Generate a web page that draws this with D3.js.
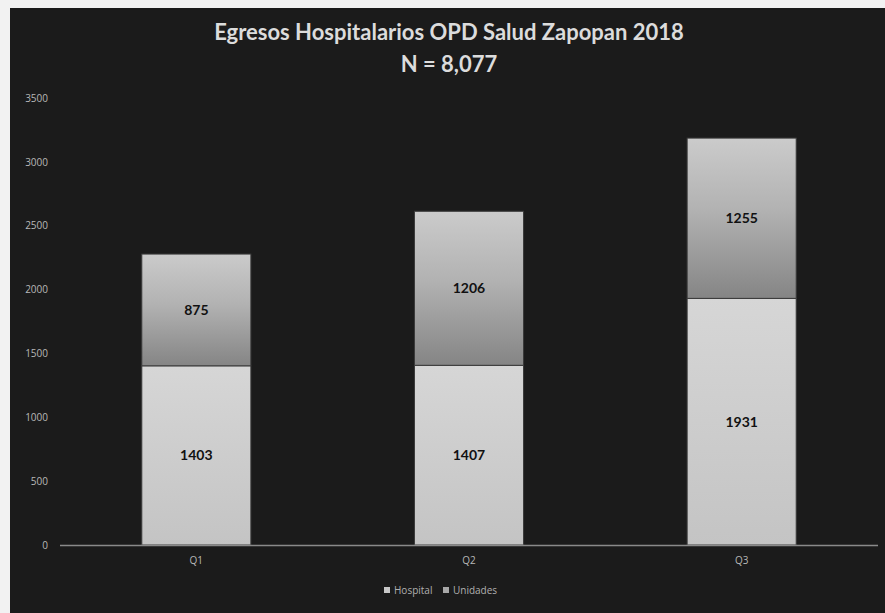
<!DOCTYPE html>
<html>
<head>
<meta charset="utf-8">
<script src="https://cdn.jsdelivr.net/npm/d3@7"></script>
<style>
  body { margin: 0; background: #f2f2f2; }
  svg { display: block; }
</style>
</head>
<body>
<div id="chart"></div>
<script>
var quarters = ["Q1", "Q2", "Q3"];
var hospital = [1403, 1407, 1931];
var unidades = [875, 1206, 1255];
var seriesNames = ["Hospital", "Unidades"];
var yTicks = [0, 500, 1000, 1500, 2000, 2500, 3000, 3500];

var W = 885, H = 613;
var margin = { top: 98, right: 9, bottom: 68, left: 60 };
var width = W - margin.left - margin.right,
  height = H - margin.top - margin.bottom;

var rows = quarters.map(function(q, i) {
  return { q: q, Hospital: hospital[i], Unidades: unidades[i] };
});
var stacked = d3.stack().keys(seriesNames)(rows);

var x = d3.scaleBand().domain(quarters).range([0, width + 2])
  .paddingInner(0.6).paddingOuter(0.3);
var y = d3.scaleLinear().domain([0, 3500]).range([height, 0]);

var svg = d3.select("#chart").append("svg")
  .attr("width", W).attr("height", H);

// dark chart panel, with the pale scan border on left/top
svg.append("rect").attr("x", 10).attr("y", 8).attr("width", W - 10).attr("height", H - 8)
  .attr("fill", "#1b1b1b");

var defs = svg.append("defs");
var grad = defs.append("linearGradient").attr("id", "gUni")
  .attr("x1", 0).attr("y1", 0).attr("x2", 0).attr("y2", 1);
grad.append("stop").attr("offset", "0%").attr("stop-color", "#cbcbcb");
grad.append("stop").attr("offset", "45%").attr("stop-color", "#b2b2b2");
grad.append("stop").attr("offset", "100%").attr("stop-color", "#858585");
var grad2 = defs.append("linearGradient").attr("id", "gHos")
  .attr("x1", 0).attr("y1", 0).attr("x2", 0).attr("y2", 1);
grad2.append("stop").attr("offset", "0%").attr("stop-color", "#d6d6d6");
grad2.append("stop").attr("offset", "100%").attr("stop-color", "#c4c4c4");

var fills = { Hospital: "url(#gHos)", Unidades: "url(#gUni)" };

svg.append("text").attr("x", 449).attr("y", 40)
  .attr("text-anchor", "middle").attr("fill", "#dcdcdc")
  .style("font-family", "Lato, 'Open Sans', sans-serif").style("font-weight", "bold")
  .style("font-size", "22px")
  .text("Egresos Hospitalarios OPD Salud Zapopan 2018");
svg.append("text").attr("x", 449).attr("y", 72)
  .attr("text-anchor", "middle").attr("fill", "#dcdcdc")
  .style("font-family", "Lato, 'Open Sans', sans-serif").style("font-weight", "bold")
  .style("font-size", "22px")
  .text("N = 8,077");

var g = svg.append("g").attr("transform", "translate(" + margin.left + "," + margin.top + ")");

// y axis labels only
var yAxis = d3.axisLeft(y).tickValues(yTicks).tickFormat(d3.format("d"))
  .tickSize(0).tickPadding(12);
var ya = g.append("g").call(yAxis);
ya.select(".domain").remove();
ya.selectAll("text").attr("fill", "#b8b8b8")
  .style("font-family", "'Open Sans', sans-serif").style("font-size", "10px");

// bars
var layer = g.selectAll(".layer").data(stacked).enter().append("g")
  .attr("class", "layer");
layer.selectAll("rect").data(function(d) { return d.map(function(p) { p.key = d.key; return p; }); })
  .enter().append("rect")
  .attr("x", function(d) { return x(d.data.q); })
  .attr("width", x.bandwidth())
  .attr("y", function(d) { return y(d[1]); })
  .attr("height", function(d) { return y(d[0]) - y(d[1]); })
  .attr("fill", function(d) { return fills[d.key]; })
  .attr("stroke", "#3a3a3a").attr("stroke-width", 1);

layer.selectAll("text").data(function(d) { return d; })
  .enter().append("text")
  .attr("x", function(d) { return x(d.data.q) + x.bandwidth() / 2; })
  .attr("y", function(d) { return (y(d[0]) + y(d[1])) / 2 + 5; })
  .attr("text-anchor", "middle").attr("fill", "#111")
  .style("font-family", "Lato, sans-serif").style("font-weight", "bold")
  .style("font-size", "14px")
  .text(function(d) { return d[1] - d[0]; });

// x axis
var xAxis = d3.axisBottom(x).tickSize(0).tickPadding(12);
var xa = g.append("g").attr("transform", "translate(0," + height + ")").call(xAxis);
xa.select(".domain").attr("stroke", "#8a8a8a").attr("stroke-width", 1.5)
  .attr("d", "M0,0.5H" + (width + 2));
xa.selectAll("text").attr("fill", "#b8b8b8")
  .style("font-family", "'Open Sans', sans-serif").style("font-size", "10px");

// legend
var legend = svg.append("g").attr("transform", "translate(384,594)");
var legColors = { Hospital: "#c8c8c8", Unidades: "#a8a8a8" };
var offs = [0, 59];
seriesNames.forEach(function(n, i) {
  var lg = legend.append("g").attr("transform", "translate(" + offs[i] + ",0)");
  lg.append("rect").attr("x", 0).attr("y", -7).attr("width", 6).attr("height", 6)
    .attr("fill", legColors[n]);
  lg.append("text").attr("x", 10).attr("y", 0).attr("fill", "#b0b0b0")
    .style("font-family", "'Open Sans', sans-serif").style("font-size", "10px")
    .text(n);
});
</script>
</body>
</html>
